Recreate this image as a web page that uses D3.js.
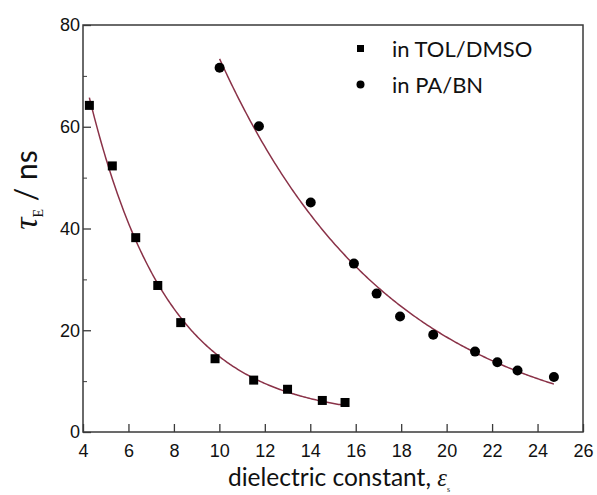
<!DOCTYPE html>
<html>
<head>
<meta charset="utf-8">
<script src="https://cdn.jsdelivr.net/npm/d3@7"></script>
<style>
  html, body { margin: 0; padding: 0; background: #fff; }
  svg { display: block; }
</style>
</head>
<body>
<svg id="chart" width="597" height="495"></svg>
<script>
// Lifetime tau_E (ns) versus static dielectric constant, two solvent mixtures
const tolDmsoEps = [4.28, 5.29, 6.32, 7.29, 8.30, 9.81, 11.51, 13.0, 14.53, 15.53];
const tolDmsoTau = [64.2, 52.3, 38.2, 28.8, 21.5, 14.4, 10.2, 8.4, 6.2, 5.8];

const paBnEps = [10.01, 11.74, 14.02, 15.92, 16.92, 17.95, 19.41, 21.25, 22.23, 23.12, 24.72];
const paBnTau = [71.6, 60.1, 45.1, 33.1, 27.2, 22.7, 19.1, 15.8, 13.7, 12.1, 10.8];

const xTicks = [4, 6, 8, 10, 12, 14, 16, 18, 20, 22, 24, 26];
const yTicks = [0, 20, 40, 60, 80];
const yMinorTicks = [10, 30, 50, 70];

const legendLabels = ["in TOL/DMSO", "in PA/BN"];

const svg = d3.select("#chart");
const m = { left: 83, right: 583, top: 25, bottom: 432 };

const x = d3.scaleLinear().domain([4, 26]).range([m.left, m.right]);
const y = d3.scaleLinear().domain([0, 80]).range([m.bottom, m.top]);

const axisColor = "#3a3a3a";
const fitColor = "#8a3248";

// Least-squares fit of y = y0 + A*exp(-x/t): scan t, solve the linear part
function fitExpDecay(xs, ys) {
  let best = null;
  for (let t = 0.5; t <= 30; t += 0.01) {
    const e = xs.map(v => Math.exp(-v / t));
    const n = xs.length;
    const me = d3.mean(e), my = d3.mean(ys);
    let sxy = 0, sxx = 0;
    for (let i = 0; i < n; i++) { sxy += (e[i] - me) * (ys[i] - my); sxx += (e[i] - me) ** 2; }
    const A = sxy / sxx, y0 = my - A * me;
    let sse = 0;
    for (let i = 0; i < n; i++) sse += (ys[i] - (y0 + A * e[i])) ** 2;
    if (!best || sse < best.sse) best = { t, A, y0, sse };
  }
  return best;
}

function fitCurve(xs, ys) {
  const p = fitExpDecay(xs, ys);
  const [lo, hi] = d3.extent(xs);
  return d3.range(0, 201).map(i => {
    const xv = lo + (hi - lo) * i / 200;
    return [xv, p.y0 + p.A * Math.exp(-xv / p.t)];
  });
}

const line = d3.line().x(d => x(d[0])).y(d => y(d[1]));

// fitted curves
[[tolDmsoEps, tolDmsoTau], [paBnEps, paBnTau]].forEach(([xs, ys]) => {
  svg.append("path")
    .attr("d", line(fitCurve(xs, ys)))
    .attr("fill", "none")
    .attr("stroke", fitColor)
    .attr("stroke-width", 1.5);
});

// markers
const sq = 9;
svg.append("g").selectAll("rect")
  .data(d3.zip(tolDmsoEps, tolDmsoTau))
  .join("rect")
  .attr("x", d => x(d[0]) - sq / 2)
  .attr("y", d => y(d[1]) - sq / 2)
  .attr("width", sq).attr("height", sq)
  .attr("fill", "#000");

svg.append("g").selectAll("circle")
  .data(d3.zip(paBnEps, paBnTau))
  .join("circle")
  .attr("cx", d => x(d[0]))
  .attr("cy", d => y(d[1]))
  .attr("r", 5)
  .attr("fill", "#000");

// axes with inward ticks
const tickFont = "'Liberation Sans', Arial, sans-serif";

const xAxis = svg.append("g")
  .attr("transform", `translate(0,${m.bottom})`)
  .call(d3.axisBottom(x).tickValues(xTicks).tickSize(-8).tickPadding(12).tickFormat(d3.format("d")));
const yAxis = svg.append("g")
  .attr("transform", `translate(${m.left},0)`)
  .call(d3.axisLeft(y).tickValues(yTicks).tickSize(-8).tickPadding(3).tickFormat(d3.format("d")));
svg.append("g")
  .attr("transform", `translate(${m.left},0)`)
  .call(d3.axisLeft(y).tickValues(yMinorTicks).tickSize(-4).tickFormat(""))
  .call(g => g.select(".domain").remove());

[xAxis, yAxis].forEach(g => {
  g.select(".domain").remove();
  g.selectAll("line").attr("stroke", axisColor).attr("stroke-width", 1.3);
  g.selectAll("text").attr("font-family", tickFont).attr("font-size", 18).attr("fill", "#111");
});
svg.selectAll("g line").attr("stroke", axisColor);

// frame
svg.append("rect")
  .attr("x", m.left).attr("y", m.top)
  .attr("width", m.right - m.left).attr("height", m.bottom - m.top)
  .attr("fill", "none").attr("stroke", axisColor).attr("stroke-width", 1.5);

// legend
const legendFont = "Lato, 'Open Sans', sans-serif";
const lg = svg.append("g");
lg.append("rect").attr("x", 357).attr("y", 45).attr("width", 7).attr("height", 7).attr("fill", "#000");
lg.append("circle").attr("cx", 360.5).attr("cy", 84.5).attr("r", 4).attr("fill", "#000");
legendLabels.forEach((t, i) => {
  lg.append("text")
    .attr("x", 392).attr("y", 57 + i * 36)
    .attr("font-family", legendFont).attr("font-size", 22)
    .attr("fill", "#111").text(t);
});

// x axis title
const xt = svg.append("text")
  .attr("x", 339).attr("y", 486)
  .attr("text-anchor", "middle")
  .attr("font-family", legendFont).attr("font-size", 24.5).attr("fill", "#111");
xt.append("tspan").text("dielectric constant, ");
xt.append("tspan").attr("font-family", "'Liberation Serif', serif").attr("font-style", "italic").text("ε");
xt.append("tspan").attr("font-family", "'Liberation Serif', serif").attr("font-size", 8).attr("dy", 6).text("s");

// y axis title
const yt = svg.append("text")
  .attr("transform", "translate(37,190) rotate(-90)")
  .attr("text-anchor", "middle")
  .attr("font-family", legendFont).attr("font-size", 30).attr("fill", "#111");
yt.append("tspan").attr("font-family", "'Liberation Serif', serif").attr("font-style", "italic").attr("font-size", 34).text("τ");
yt.append("tspan").attr("font-family", "'Liberation Serif', serif").attr("font-size", 14).attr("dy", 6).text("E");
yt.append("tspan").attr("dy", -6).text(" / ns");
</script>
</body>
</html>
